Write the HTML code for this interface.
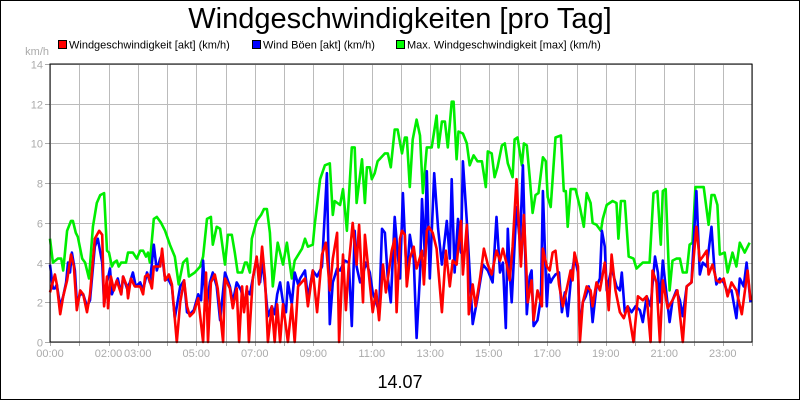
<!DOCTYPE html>
<html>
<head>
<meta charset="utf-8">
<style>
html,body{margin:0;padding:0;background:#fff;}
#wrap{position:relative;width:800px;height:400px;overflow:hidden;}
svg{display:block;font-family:"Liberation Sans",Arial,sans-serif;}
</style>
</head>
<body>
<div id="wrap">
<svg id="chart" width="800" height="400" viewBox="0 0 800 400">
  <rect x="0.5" y="0.5" width="799" height="399" fill="#fff" stroke="#000" stroke-width="1"/>
  <text x="400" y="28" text-anchor="middle" font-size="29" fill="#000">Windgeschwindigkeiten [pro Tag]</text>
  <g>
    <g>
      <rect x="58.5" y="40.5" width="8" height="8" fill="#f00" stroke="#000" stroke-width="1"/>
      <text x="69" y="48.5" font-size="11" fill="#000">Windgeschwindigkeit [akt] (km/h)</text>
    </g>
    <g>
      <rect x="252.5" y="40.5" width="8" height="8" fill="#00f" stroke="#000" stroke-width="1"/>
      <text x="263" y="48.5" font-size="11" fill="#000">Wind Böen [akt] (km/h)</text>
    </g>
    <g>
      <rect x="396.5" y="40.5" width="8" height="8" fill="#0f0" stroke="#000" stroke-width="1"/>
      <text x="407" y="48.5" font-size="11" fill="#000">Max. Windgeschwindigkeit [max] (km/h)</text>
    </g>
  </g>
  <text x="49" y="55" text-anchor="end" font-size="11" fill="#aaa">km/h</text>
  <text x="400" y="388" text-anchor="middle" font-size="18" fill="#000">14.07</text>
  <g id="grid"></g>
  <g id="axes"></g>
  <g id="series"></g>
  <rect x="50" y="64" width="702" height="278" fill="none" stroke="#000" stroke-width="1"/>
</svg>
</div>
<script>
// ---- data ----
const yTicks = [0,2,4,6,8,10,12,14];
const xTickHours = [0,1,2,3,4,5,6,7,8,9,10,11,12,13,14,15,16,17,18,19,20,21,22,23,24];
const xLabelHours = [0,2,3,5,7,9,11,13,15,17,19,21,23];
const xLabels = ["00:00","02:00","03:00","05:00","07:00","09:00","11:00","13:00","15:00","17:00","19:00","21:00","23:00"];

const maxMinutes = [0,6,16,23,27,35,43,47,53,57,66,72,80,88,96,103,111,117,121,127,131,137,141,146,156,160,170,178,185,191,197,201,205,213,219,228,236,246,256,264,273,281,285,297,308,314,322,330,334,342,349,359,365,373,379,385,394,400,404,410,414,424,433,439,445,451,457,467,478,486,496,502,517,523,529,539,543,554,564,574,580,584,595,601,609,619,625,629,640,646,650,656,660,666,672,687,693,699,707,713,722,728,732,738,744,752,759,765,773,783,793,797,804,810,816,824,828,834,838,847,855,861,869,877,886,894,898,906,912,918,927,933,939,949,953,959,968,972,978,984,990,996,1002,1011,1017,1021,1027,1037,1048,1054,1058,1062,1068,1078,1087,1095,1101,1109,1113,1121,1130,1134,1142,1154,1162,1166,1171,1179,1187,1197,1203,1216,1230,1238,1246,1253,1257,1263,1271,1277,1285,1292,1298,1306,1312,1318,1324,1341,1351,1357,1363,1369,1374,1384,1390,1400,1408,1415,1425,1435];
const maxValues = [5.2,4.0,4.2,4.2,3.6,5.6,6.1,6.1,5.5,5.3,4.2,4.0,3.2,5.8,7.0,7.4,7.5,4.6,4.5,3.8,4.0,4.1,3.8,4.0,4.0,4.5,4.5,4.2,4.6,4.6,4.3,4.5,4.0,6.2,6.3,6.0,5.6,4.9,4.3,2.9,4.0,4.2,3.3,3.5,3.8,4.3,6.2,6.3,4.9,5.8,5.7,3.9,5.4,5.4,4.5,3.5,3.5,4.0,4.0,3.5,5.2,6.1,6.4,6.7,6.7,5.5,2.8,5.0,3.9,5.0,3.2,4.1,4.7,5.2,4.8,4.9,5.9,8.2,8.9,9.0,6.4,7.1,6.9,7.7,5.6,9.8,9.8,7.0,9.2,7.0,8.8,8.8,8.2,8.5,9.1,9.5,9.5,8.8,10.7,10.7,9.5,10.3,10.3,7.8,10.2,11.2,10.4,7.5,9.8,9.8,11.4,9.8,11.1,11.1,9.8,12.1,12.1,9.2,10.6,10.5,10.0,8.9,9.4,9.1,9.1,7.8,9.6,9.5,8.3,8.8,9.9,10.0,9.0,8.3,10.2,10.3,8.9,10.0,9.9,8.3,6.5,7.4,7.5,9.3,9.1,7.3,6.8,10.3,10.4,7.6,7.6,5.8,7.7,7.7,6.8,5.8,7.5,7.0,6.0,5.9,5.6,6.2,6.9,7.1,7.0,5.2,7.1,7.1,4.3,4.2,3.7,4.0,4.0,7.5,7.6,4.9,7.6,7.7,2.6,4.1,4.2,4.2,3.5,3.5,4.9,5.0,7.8,7.8,5.9,7.4,7.4,6.9,4.4,4.5,3.5,4.5,3.8,5.0,4.5,5.0];

const gustMinutes = [0,6,10,14,21,27,33,37,41,45,51,55,62,68,76,82,92,98,107,111,117,123,127,133,139,146,150,158,164,170,176,185,191,199,205,213,219,226,230,236,242,250,256,267,275,281,287,295,304,310,314,320,328,334,342,349,359,369,375,383,392,398,404,410,416,424,431,435,441,447,455,461,466,472,478,484,488,496,502,509,513,523,529,539,548,558,568,574,580,589,595,605,613,619,625,629,636,642,648,656,662,669,675,681,687,693,699,707,713,718,724,732,738,746,752,759,763,769,773,779,788,796,804,814,820,824,830,837,843,847,855,861,867,877,888,898,908,916,923,929,935,939,943,947,957,964,970,978,984,988,992,1000,1007,1011,1019,1023,1027,1031,1037,1044,1050,1056,1062,1068,1076,1083,1087,1093,1099,1105,1109,1113,1121,1128,1132,1138,1142,1152,1162,1169,1173,1179,1185,1193,1201,1210,1216,1224,1232,1241,1247,1251,1257,1265,1271,1277,1285,1292,1298,1306,1316,1326,1333,1339,1347,1357,1363,1367,1374,1382,1390,1398,1408,1415,1423,1429,1437];
const gustValues = [3.9,2.7,2.7,2.9,1.8,2.3,3.0,4.0,3.5,4.5,3.6,2.0,2.4,2.4,1.8,2.1,4.8,5.2,4.0,1.9,3.0,3.7,2.4,2.8,3.2,2.4,3.3,2.7,3.0,3.5,2.8,3.0,2.6,3.5,3.0,4.9,3.6,4.2,4.4,3.1,3.2,2.8,1.2,2.8,3.1,1.5,1.4,1.6,2.4,2.1,4.1,1.6,3.0,3.5,2.8,1.1,3.5,2.8,2.0,3.0,2.6,1.9,2.6,2.4,3.2,4.2,3.0,4.1,2.9,1.3,1.8,1.4,2.4,3.0,2.0,1.5,3.0,1.9,3.5,2.9,3.2,3.6,2.2,3.6,3.3,3.8,8.5,0.9,3.0,3.7,3.6,4.1,4.0,0.8,5.6,3.8,3.0,3.4,4.0,3.5,2.5,2.0,1.5,5.7,5.5,3.2,2.0,6.3,4.5,3.2,7.5,3.1,5.4,4.2,0.2,3.4,7.2,4.3,8.6,3.2,8.5,5.7,3.9,6.1,4.2,8.2,3.5,6.2,4.5,9.1,6.1,3.5,0.9,2.2,3.9,3.6,3.0,6.3,3.5,4.0,0.7,5.7,3.5,2.0,6.8,5.0,8.9,1.4,3.3,3.6,0.8,1.1,2.2,7.6,1.8,3.4,3.0,3.2,3.4,3.5,1.5,2.5,1.3,3.0,4.3,3.5,0.6,2.0,2.3,2.8,2.3,1.0,2.8,3.2,5.6,4.8,2.6,3.7,2.8,2.6,3.5,1.5,1.8,1.5,1.8,1.6,1.0,2.3,1.8,4.3,3.5,2.0,4.1,2.3,1.0,2.1,2.6,2.1,1.3,2.8,3.0,7.6,3.4,4.0,3.8,5.8,3.6,2.9,3.2,3.0,2.5,2.6,1.2,3.2,2.8,4.0,2.0];

const speedMinutes = [0,10,14,21,27,35,43,49,55,62,68,76,82,92,101,107,111,117,119,125,131,137,146,150,158,160,166,174,185,191,195,201,209,213,226,230,236,244,250,260,267,275,281,287,295,304,314,320,324,330,338,344,355,359,369,375,383,388,394,398,404,408,416,424,429,435,441,447,455,461,466,472,478,488,496,502,509,523,529,539,548,558,566,574,580,589,593,601,607,613,621,629,634,642,646,652,662,669,675,683,689,701,707,711,718,722,728,732,738,746,752,763,767,773,777,785,793,804,812,820,826,834,843,847,855,859,867,873,882,890,898,906,916,923,929,937,943,949,957,966,972,980,988,992,1000,1009,1011,1019,1025,1031,1037,1044,1052,1062,1068,1072,1076,1083,1087,1093,1101,1109,1113,1121,1128,1138,1146,1152,1160,1169,1177,1185,1197,1206,1216,1224,1232,1236,1244,1251,1257,1267,1277,1287,1298,1306,1316,1326,1333,1339,1347,1351,1359,1367,1374,1382,1390,1398,1408,1419,1431,1437];
const speedValues = [2.5,3.4,2.9,1.4,2.3,3.1,4.4,3.8,1.6,2.6,2.4,1.5,2.4,5.2,5.6,5.4,1.8,3.3,1.7,3.3,2.6,3.1,2.4,3.3,2.8,2.2,3.2,2.8,2.8,2.4,3.3,3.4,2.7,3.8,3.8,4.7,3.1,3.4,2.9,0,2.0,3.1,1.8,1.3,1.5,2.2,0,3.5,0,3.0,3.4,2.7,0,3.2,2.7,1.7,2.7,0,2.8,1.5,2.8,0,3.2,4.3,2.9,4.8,3.2,0,1.8,0,1.9,0,1.9,0,1.9,0,2.8,3.2,1.8,3.6,1.5,4.4,5.0,2.6,4.2,5.5,0,4.4,1.6,3.9,6.0,3.9,5.9,2.0,5.4,3.9,1.5,2.6,1.1,3.9,2.5,4.6,5.2,1.5,5.2,5.6,5.4,2.8,4.2,4.8,3.7,4.6,2.9,5.6,5.8,5.5,4.7,1.5,4.6,2.8,4.1,3.9,6.1,3.4,5.9,1.4,2.9,1.8,3.2,4.7,3.9,3.4,4.6,4.1,4.7,3.9,3.1,4.8,8.2,3.8,6.4,2.0,3.1,1.1,2.6,1.8,4.7,3.8,3.6,4.5,4.6,2.9,1.8,2.9,3.6,3.1,4.5,3.8,0,2.0,2.8,2.6,1.8,3.0,2.6,4.0,1.6,4.4,2.6,1.5,1.2,1.8,0,2.3,2.1,2.3,0,3.6,3.0,0,3.1,1.7,2.1,2.6,0,2.8,3.0,5.8,4.1,4.3,4.6,3.4,3.9,3.1,3.0,3.2,2.3,3.0,2.6,1.4,3.6,2.1];

// ---- axes ----
const PL = 50, PR = 752, PT = 64, PB = 342;
const Y_MAX = 14, X_MAX = 1440;
function xScale(min){ return PL + (min / X_MAX) * (PR - PL); }
function yScale(v){ return PB - (v / Y_MAX) * (PB - PT); }
const NS = 'http://www.w3.org/2000/svg';
function mk(tag, attrs, parent){
  const el = document.createElementNS(NS, tag);
  for (const k in attrs) el.setAttribute(k, attrs[k]);
  parent.appendChild(el);
  return el;
}
const grid = document.getElementById('grid');
const axes = document.getElementById('axes');
const series = document.getElementById('series');

yTicks.forEach(function(t){
  const y = Math.round(yScale(t)) + 0.5;
  const gl = mk('line', {x1:PL, x2:PR, y1:y, y2:y, stroke:'#bbb', 'stroke-width':1}, grid);
  
  
  const tk = mk('line', {x1:PL-5, x2:PL, y1:y, y2:y, stroke:'#aaa', 'stroke-width':1}, axes);
  
  
  const lb = mk('text', {x:PL-7, y:y+4, 'text-anchor':'end', 'font-size':11, fill:'#aaa'}, axes);
  lb.textContent = String(t);
  
  
});
xTickHours.forEach(function(h){
  const x = Math.round(xScale(h*60)) + 0.5;
  const gl = mk('line', {x1:x, x2:x, y1:PT, y2:PB, stroke:'#bbb', 'stroke-width':1}, grid);
  
  
  const tk = mk('line', {x1:x, x2:x, y1:PB, y2:PB+4, stroke:'#aaa', 'stroke-width':1}, axes);
  
  
});
xLabelHours.forEach(function(h, i){
  const lb = mk('text', {x:xScale(h*60), y:357, 'text-anchor':'middle', 'font-size':11, fill:'#aaa'}, axes);
  lb.textContent = xLabels[i];
  
  
});

function drawLine(mins, vals, color, name){
  let d = '';
  for (let i = 0; i < mins.length; i++){
    d += (i ? 'L' : 'M') + xScale(mins[i]).toFixed(1) + ',' + yScale(vals[i]).toFixed(1);
  }
  const p = mk('path', {d:d, fill:'none', stroke:color, 'stroke-width':2.6, 'stroke-linejoin':'round'}, series);
  
  
}
drawLine(maxMinutes, maxValues, '#00ee00', 'line-max-wind-speed');
drawLine(gustMinutes, gustValues, '#0000ff', 'line-wind-gusts');
drawLine(speedMinutes, speedValues, '#ff0000', 'line-wind-speed');
</script>
</body>
</html>
